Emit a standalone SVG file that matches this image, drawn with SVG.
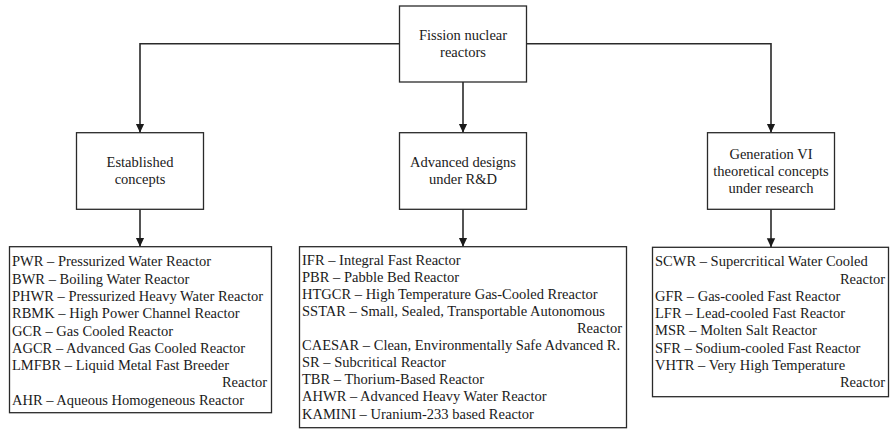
<svg xmlns="http://www.w3.org/2000/svg" width="891" height="429" viewBox="0 0 891 429">
  <style>
    .box { fill: #ffffff; stroke: #2a2a2a; stroke-width: 1.3; }
    .edge { fill: none; stroke: #2a2a2a; stroke-width: 1.6; }
    .c { text-anchor: middle; }
    .r { text-anchor: end; }
  </style>
  <defs>
    <marker id="arrow" markerWidth="10" markerHeight="10" refX="9" refY="5" orient="auto" markerUnits="userSpaceOnUse">
      <path d="M0,0.8 L9,5 L0,9.2 z" fill="#1a1a1a"/>
    </marker>
  </defs>

  <rect width="891" height="429" fill="#ffffff"/>

  <!-- connectors -->
  <g id="connectors">
    <path class="edge" d="M399.5,43.7 H140 V132.7" marker-end="url(#arrow)"/>
    <path class="edge" d="M463,82 V132.7" marker-end="url(#arrow)"/>
    <path class="edge" d="M526.5,43.7 H771 V132.7" marker-end="url(#arrow)"/>
    <path class="edge" d="M140,209.3 V246.7" marker-end="url(#arrow)"/>
    <path class="edge" d="M463,209.3 V246.7" marker-end="url(#arrow)"/>
    <path class="edge" d="M771,209.3 V247.3" marker-end="url(#arrow)"/>
  </g>

  <g font-family="'Liberation Serif', 'Times New Roman', serif" font-size="14.5" fill="#1a1a1a">
    <!-- root -->
    <g id="root">
      <rect class="box" x="399.5" y="6" width="127" height="76"/>
      <text class="c" x="463" y="40">Fission nuclear</text>
      <text class="c" x="463" y="57">reactors</text>
    </g>

    <!-- categories -->
    <g id="established">
      <rect class="box" x="76.5" y="132.7" width="127" height="76.6"/>
      <text class="c" x="140" y="167">Established</text>
      <text class="c" x="140" y="184.3">concepts</text>
    </g>
    <g id="advanced">
      <rect class="box" x="399.5" y="132.7" width="127" height="76.6"/>
      <text class="c" x="463" y="167">Advanced designs</text>
      <text class="c" x="463" y="184.3">under R&amp;D</text>
    </g>
    <g id="generation">
      <rect class="box" x="707.5" y="132.7" width="127" height="76.6"/>
      <text class="c" x="771" y="158.5">Generation VI</text>
      <text class="c" x="771" y="175.7">theoretical concepts</text>
      <text class="c" x="771" y="192.9">under research</text>
    </g>

    <!-- reactor lists -->
    <g id="established-list">
      <rect class="box" x="9.5" y="246.7" width="262" height="166"/>
      <text x="12" y="266.3">PWR – Pressurized Water Reactor</text>
      <text x="12" y="283.6">BWR – Boiling Water Reactor</text>
      <text x="12" y="300.9">PHWR – Pressurized Heavy Water Reactor</text>
      <text x="12" y="318.2">RBMK – High Power Channel Reactor</text>
      <text x="12" y="335.5">GCR – Gas Cooled Reactor</text>
      <text x="12" y="352.8">AGCR – Advanced Gas Cooled Reactor</text>
      <text x="12" y="370.1">LMFBR – Liquid Metal Fast Breeder</text>
      <text class="r" x="267" y="387.4">Reactor</text>
      <text x="12" y="404.7">AHR – Aqueous Homogeneous Reactor</text>
    </g>
    <g id="advanced-list">
      <rect class="box" x="299.5" y="246.7" width="327" height="181"/>
      <text x="302" y="264.6">IFR – Integral Fast Reactor</text>
      <text x="302" y="281.7">PBR – Pabble Bed Reactor</text>
      <text x="302" y="298.8">HTGCR – High Temperature Gas-Cooled Rreactor</text>
      <text x="302" y="315.9">SSTAR – Small, Sealed, Transportable Autonomous</text>
      <text class="r" x="622" y="333">Reactor</text>
      <text x="302" y="350.1">CAESAR – Clean, Environmentally Safe Advanced R.</text>
      <text x="302" y="367.2">SR – Subcritical Reactor</text>
      <text x="302" y="384.3">TBR – Thorium-Based Reactor</text>
      <text x="302" y="401.4">AHWR – Advanced Heavy Water Reactor</text>
      <text x="302" y="418.5">KAMINI – Uranium-233 based Reactor</text>
    </g>
    <g id="generation-list">
      <rect class="box" x="652.5" y="247.3" width="236" height="149.4"/>
      <text x="655" y="266.3">SCWR – Supercritical Water Cooled</text>
      <text class="r" x="885" y="283.5">Reactor</text>
      <text x="655" y="300.8">GFR – Gas-cooled Fast Reactor</text>
      <text x="655" y="318">LFR – Lead-cooled Fast Reactor</text>
      <text x="655" y="335.3">MSR – Molten Salt Reactor</text>
      <text x="655" y="352.5">SFR – Sodium-cooled Fast Reactor</text>
      <text x="655" y="369.8">VHTR – Very High Temperature</text>
      <text class="r" x="885" y="387">Reactor</text>
    </g>
  </g>
</svg>
